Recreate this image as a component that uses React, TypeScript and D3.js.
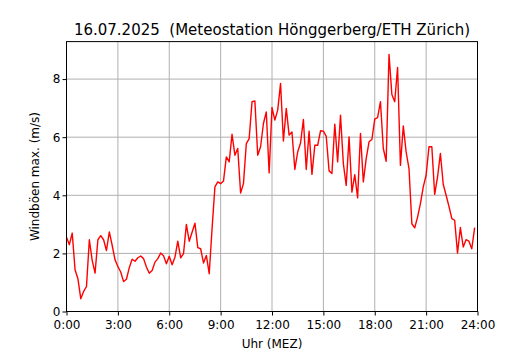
import { useEffect, useRef } from "react";
import * as d3 from "d3";

// 10-minute gust maxima (m/s), 0:00 .. 23:50
const gusts = [
  2.56, 2.3, 2.7, 1.44, 1.13, 0.44, 0.69, 0.86, 2.47, 1.76, 1.32, 2.47,
  2.61, 2.47, 2.1, 2.74, 2.28, 1.78, 1.55, 1.36, 1.03, 1.11, 1.51, 1.8,
  1.73, 1.85, 1.91, 1.82, 1.53, 1.32, 1.41, 1.7, 1.82, 2.01, 1.92, 1.64,
  1.9, 1.61, 1.87, 2.42, 1.85, 1.99, 3.0, 2.42, 2.73, 3.04, 2.2, 2.16,
  1.67, 1.93, 1.3, 2.85, 4.29, 4.46, 4.4, 4.49, 5.32, 5.15, 6.1, 5.38,
  5.61, 4.08, 4.4, 5.78, 5.95, 7.22, 7.25, 5.38, 5.67, 6.47, 6.87, 4.77,
  7.02, 6.59, 6.93, 7.85, 5.87, 6.99, 6.07, 6.18, 4.89, 5.49, 5.8, 6.61,
  4.89, 6.21, 4.72, 5.72, 5.72, 6.22, 6.21, 6.03, 4.84, 4.75, 6.45, 5.15,
  6.76, 5.09, 4.34, 6.01, 4.11, 4.71, 3.91, 6.13, 4.46, 5.26, 5.84, 5.92,
  6.62, 6.67, 7.22, 5.61, 5.17, 8.85, 7.47, 7.22, 8.4, 5.03, 6.39, 5.49,
  4.92, 3.02, 2.88, 3.25, 3.71, 4.29, 4.69, 5.67, 5.67, 4.03, 4.63, 5.44,
  4.38, 4.0, 3.62, 3.2, 3.14, 2.01, 2.89, 2.22, 2.47, 2.42, 2.16, 2.89,
];
const stepMinutes = 10;
const xTickHours = [0, 3, 6, 9, 12, 15, 18, 21, 24];
const yTicks = [0, 2, 4, 6, 8];
const title = "16.07.2025  (Meteostation Hönggerberg/ETH Zürich)";
const xLabel = "Uhr (MEZ)";
const yLabel = "Windböen max. (m/s)";

export default function App() {
  const ref = useRef<SVGSVGElement>(null);

  useEffect(() => {
    const svg = d3.select(ref.current);
    svg.selectAll("*").remove();
    const font = "DejaVu Sans, sans-serif";
    const left = 66.5, right = 477.5, top = 41.6, bottom = 311.5;

    const x = d3.scaleLinear().domain([0, 24 * 60]).range([left, right]);
    const y = d3.scaleLinear().domain([0, 9.29]).range([bottom, top]);

    // grid
    svg.append("g")
      .selectAll("line")
      .data(xTickHours)
      .join("line")
      .attr("x1", (d) => x(d * 60)).attr("x2", (d) => x(d * 60))
      .attr("y1", top).attr("y2", bottom)
      .attr("stroke", "#b0b0b0").attr("stroke-width", 1);
    svg.append("g")
      .selectAll("line")
      .data(yTicks)
      .join("line")
      .attr("x1", left).attr("x2", right)
      .attr("y1", (d) => y(d)).attr("y2", (d) => y(d))
      .attr("stroke", "#b0b0b0").attr("stroke-width", 1);

    // data line
    const line = d3.line<number>()
      .x((_, i) => x(i * stepMinutes))
      .y((d) => y(d));
    svg.append("path")
      .datum(gusts)
      .attr("d", line)
      .attr("fill", "none")
      .attr("stroke", "#ff0000")
      .attr("stroke-width", 1.4)
      .attr("stroke-linejoin", "round");

    // frame
    svg.append("rect")
      .attr("x", left).attr("y", top)
      .attr("width", right - left).attr("height", bottom - top)
      .attr("fill", "none").attr("stroke", "#000").attr("stroke-width", 1);

    // axes
    const xAxis = d3.axisBottom(x)
      .tickValues(xTickHours.map((h) => h * 60))
      .tickFormat((d) => `${Math.round(+d / 60)}:00`)
      .tickSize(4).tickPadding(5);
    const gx = svg.append("g").attr("transform", `translate(0,${bottom})`).call(xAxis);
    const yAxis = d3.axisLeft(y).tickValues(yTicks).tickSize(4).tickPadding(2);
    const gy = svg.append("g").attr("transform", `translate(${left},0)`).call(yAxis);
    [gx, gy].forEach((g) => {
      g.select(".domain").remove();
      g.selectAll("text").attr("font-family", font).attr("font-size", 12).attr("fill", "#000");
      g.selectAll("line").attr("stroke", "#000");
    });

    svg.append("text")
      .attr("x", (left + right) / 2).attr("y", 35)
      .attr("text-anchor", "middle")
      .attr("font-family", font).attr("font-size", 15)
      .style("white-space", "pre")
      .text(title);
    svg.append("text")
      .attr("x", (left + right) / 2).attr("y", 348)
      .attr("text-anchor", "middle")
      .attr("font-family", font).attr("font-size", 12)
      .text(xLabel);
    svg.append("text")
      .attr("transform", `translate(39,${(top + bottom) / 2}) rotate(-90)`)
      .attr("text-anchor", "middle")
      .attr("font-family", font).attr("font-size", 12)
      .text(yLabel);
  }, []);

  return (
    <svg
      ref={ref}
      width={530}
      height={350}
      style={{ position: "absolute", left: 0, top: 0, background: "#fff" }}
    />
  );
}
